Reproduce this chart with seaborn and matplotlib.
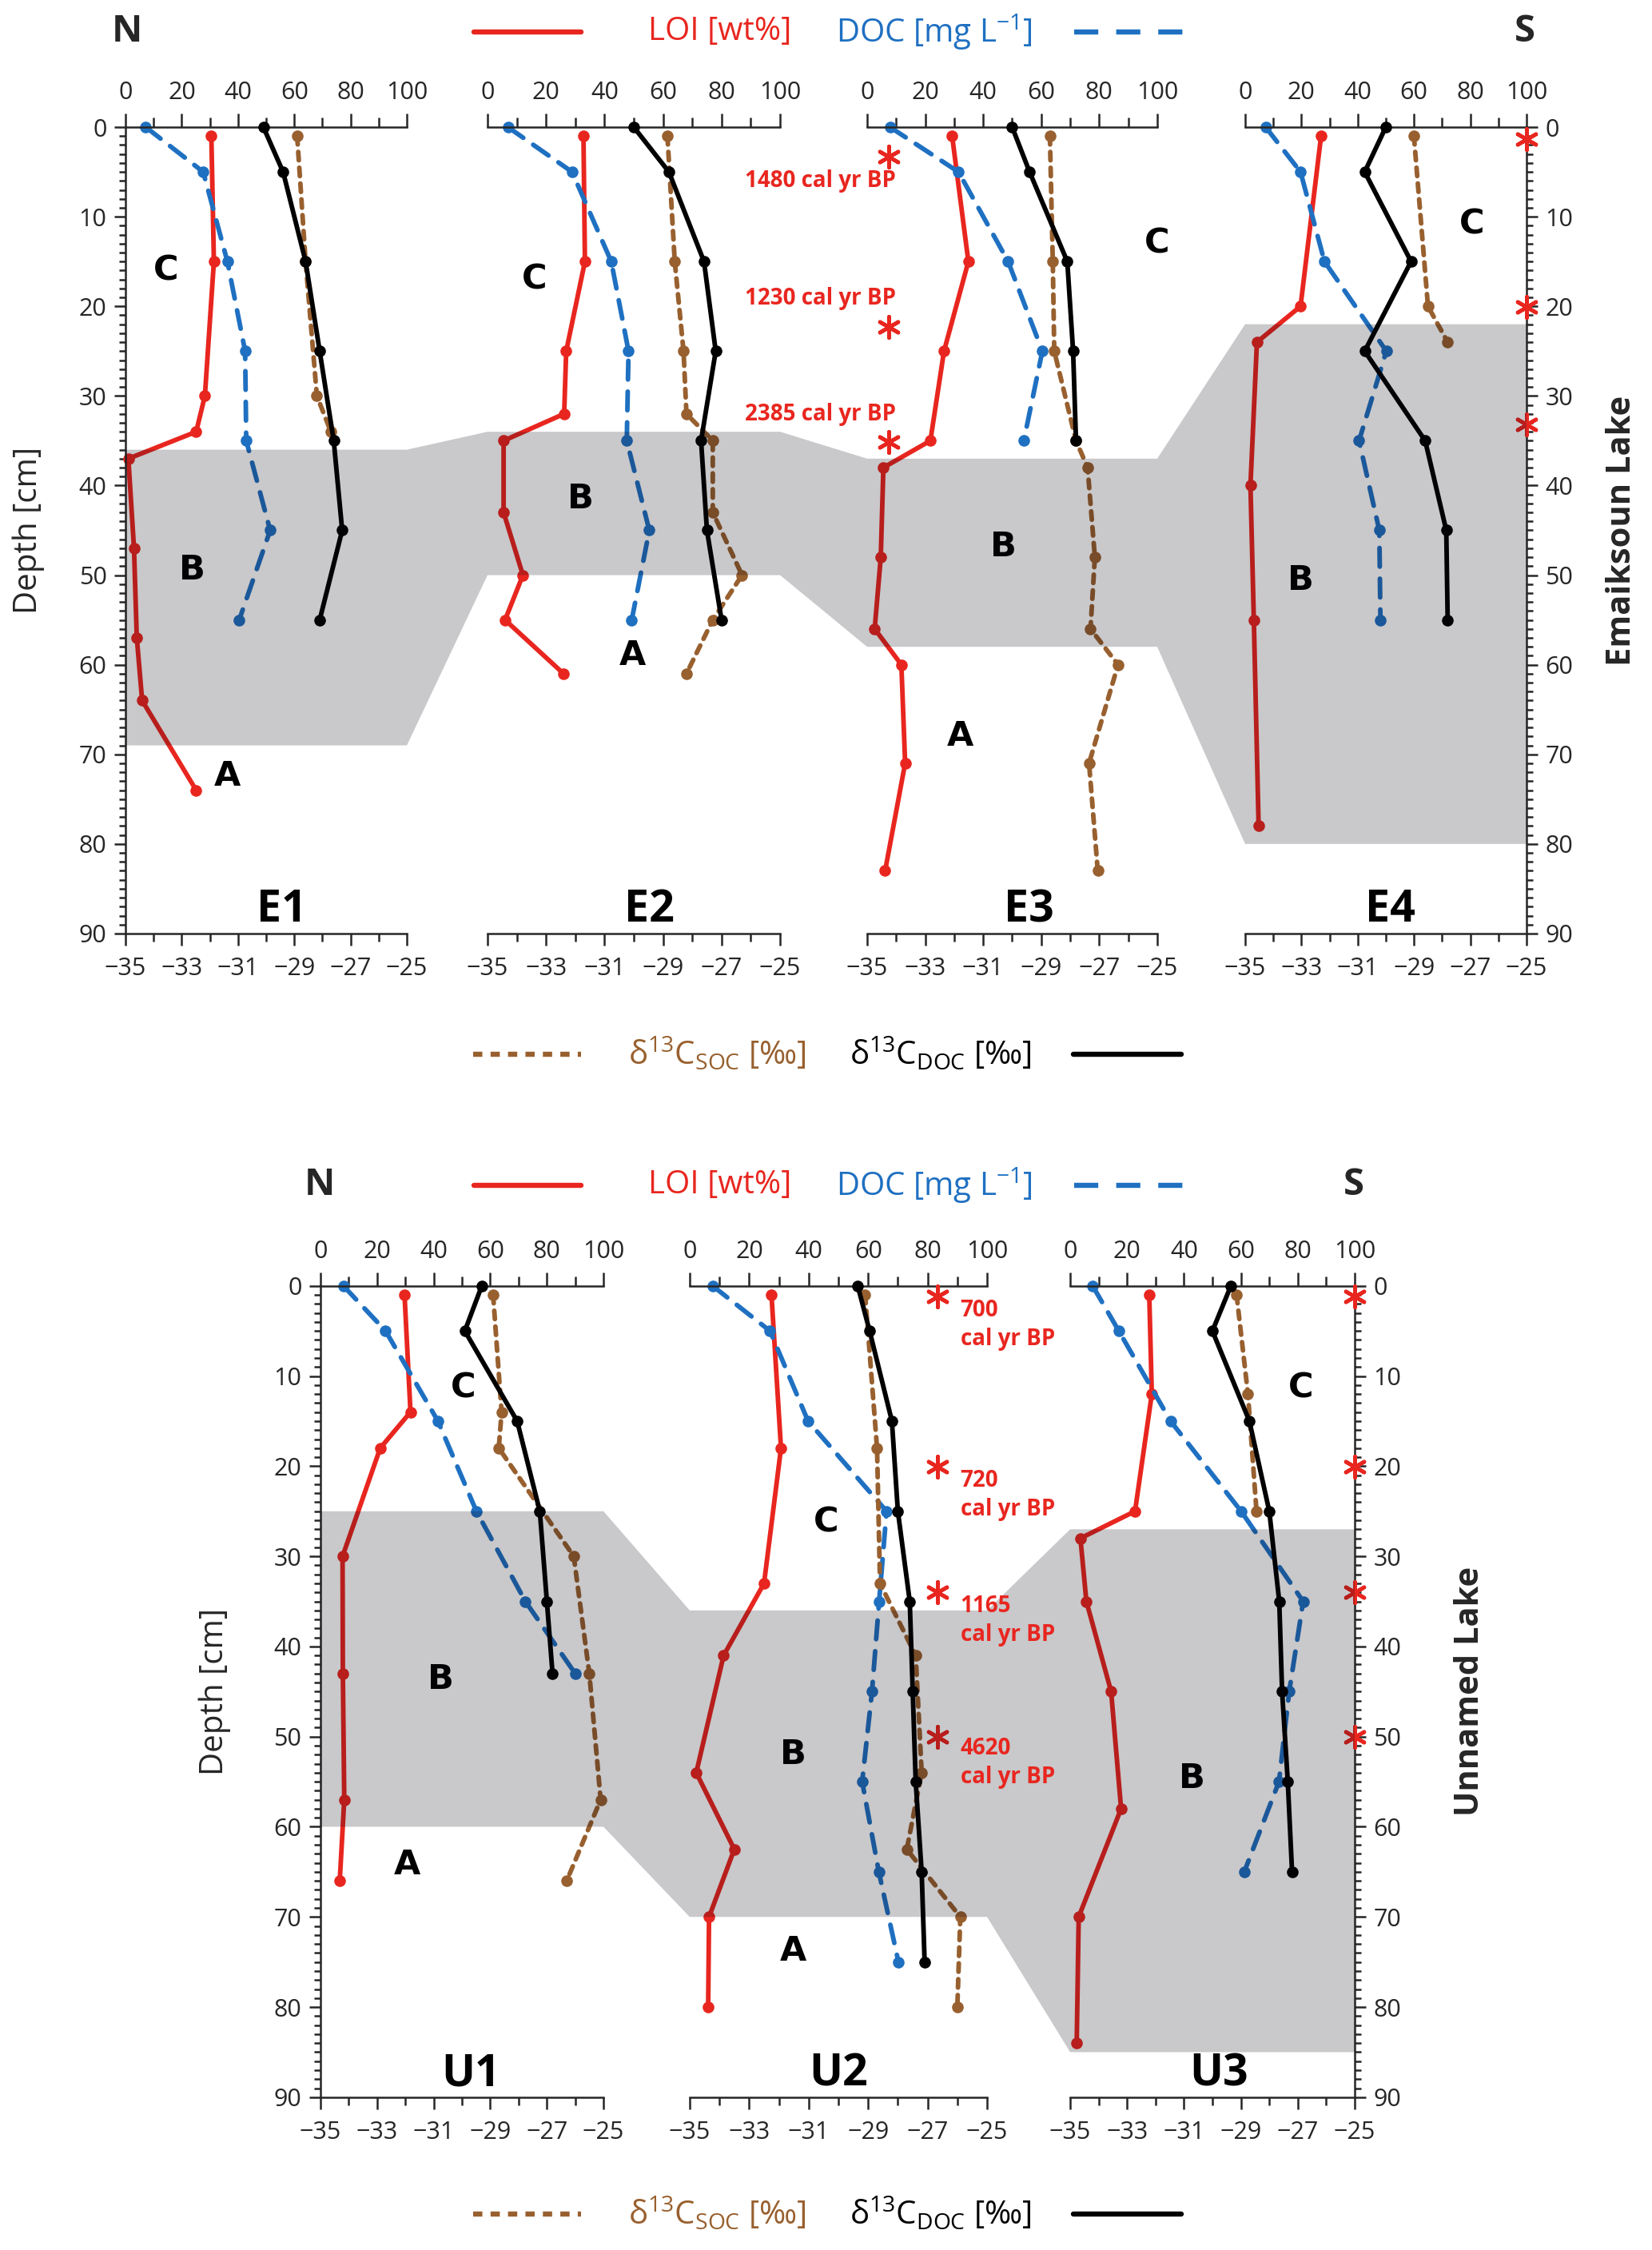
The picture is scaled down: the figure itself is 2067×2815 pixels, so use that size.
import matplotlib
matplotlib.use('Agg')
import matplotlib.pyplot as plt
import seaborn as sns
from matplotlib.lines import Line2D
from matplotlib.patches import Polygon
from matplotlib.ticker import MultipleLocator

sns.set_style('ticks')
plt.rcParams['font.family'] = ['Open Sans', 'DejaVu Sans']
plt.rcParams['mathtext.fontset'] = 'custom'
plt.rcParams['mathtext.rm'] = 'Open Sans'
plt.rcParams['mathtext.it'] = 'Open Sans:italic'
plt.rcParams['mathtext.bf'] = 'Open Sans:bold'

RED = '#e8261f'
BLUE = '#1f70c1'
BROWN = '#98602f'
BLACK = '#000000'
LW = 4.2
MS = 10.5

### DATA ###
# Emaiksoun Lake
e1_loi_depth = [1, 15, 30, 34, 37, 47, 57, 64, 74]
e1_loi = [30.5, 31.4, 28.2, 25.1, 1.0, 3.0, 4.0, 5.9, 25.1]
e1_doc_depth = [0, 5, 15, 25, 35, 45, 55]
e1_doc = [7.2, 27.6, 36.2, 42.5, 42.9, 51.4, 40.4]
e1_cdoc_depth = [0, 5, 15, 25, 35, 45, 55]
e1_cdoc = [-30.1, -29.4, -28.6, -28.1, -27.6, -27.3, -28.1]
e1_csoc_depth = [1, 15, 30, 34]
e1_csoc = [-28.9, -28.6, -28.2, -27.7]

e2_loi_depth = [1, 15, 25, 32, 35, 43, 50, 55, 61]
e2_loi = [32.8, 33.3, 26.9, 26.2, 5.5, 5.5, 12.1, 6.0, 26.0]
e2_doc_depth = [0, 5, 15, 25, 35, 45, 55]
e2_doc = [7.0, 28.9, 42.3, 48.2, 47.6, 55.3, 49.3]
e2_cdoc_depth = [0, 5, 15, 25, 35, 45, 55]
e2_cdoc = [-30.0, -28.8, -27.6, -27.2, -27.7, -27.5, -27.0]
e2_csoc_depth = [1, 15, 25, 32, 35, 43, 50, 55, 61]
e2_csoc = [-28.85, -28.6, -28.3, -28.2, -27.3, -27.3, -26.3, -27.3, -28.2]

e3_loi_depth = [1, 15, 25, 35, 38, 48, 56, 60, 71, 83]
e3_loi = [29.3, 34.9, 26.5, 21.8, 5.6, 4.7, 2.6, 11.8, 13.1, 6.2]
e3_doc_depth = [0, 5, 15, 25, 35]
e3_doc = [7.9, 31.5, 48.6, 60.4, 54.0]
e3_cdoc_depth = [0, 5, 15, 25, 35]
e3_cdoc = [-30.0, -29.4, -28.1, -27.9, -27.8]
e3_csoc_depth = [1, 15, 25, 35, 38, 48, 56, 60, 71, 83]
e3_csoc = [-28.7, -28.6, -28.55, -27.8, -27.4, -27.15, -27.3, -26.35, -27.35, -27.05]

e4_loi_depth = [1, 20, 24, 40, 55, 78]
e4_loi = [27.0, 19.7, 4.2, 1.9, 3.1, 4.8]
e4_doc_depth = [0, 5, 15, 25, 35, 45, 55]
e4_doc = [7.3, 19.7, 28.2, 50.2, 40.5, 47.7, 48.1]
e4_cdoc_depth = [0, 5, 15, 25, 35, 45, 55]
e4_cdoc = [-30.0, -30.75, -29.1, -30.75, -28.6, -27.85, -27.8]
e4_csoc_depth = [1, 20, 24]
e4_csoc = [-29.0, -28.5, -27.8]

# Unnamed Lake
u1_loi_depth = [1, 14, 18, 30, 43, 57, 66]
u1_loi = [29.7, 31.8, 21.1, 7.8, 7.9, 8.4, 6.8]
u1_doc_depth = [0, 5, 15, 25, 35, 43]
u1_doc = [8.1, 23.0, 41.5, 55.1, 72.4, 90.0]
u1_cdoc_depth = [0, 5, 15, 25, 35, 43]
u1_cdoc = [-29.3, -29.9, -28.05, -27.25, -27.0, -26.8]
u1_csoc_depth = [1, 14, 18, 30, 43, 57, 66]
u1_csoc = [-28.9, -28.6, -28.7, -26.05, -25.5, -25.1, -26.3]

u2_loi_depth = [1, 18, 33, 41, 54, 62.5, 70, 80]
u2_loi = [27.5, 30.7, 25.0, 11.4, 2.2, 15.0, 6.5, 6.2]
u2_doc_depth = [0, 5, 15, 25, 35, 45, 55, 65, 75]
u2_doc = [7.7, 27.0, 39.8, 66.2, 63.7, 61.3, 58.0, 63.6, 70.2]
u2_cdoc_depth = [0, 5, 15, 25, 35, 45, 55, 65, 75]
u2_cdoc = [-29.35, -28.95, -28.2, -28.0, -27.6, -27.5, -27.4, -27.2, -27.1]
u2_csoc_depth = [1, 18, 33, 41, 54, 62.5, 70, 80]
u2_csoc = [-29.1, -28.7, -28.6, -27.4, -27.2, -27.7, -25.9, -26.0]

u3_loi_depth = [1, 12, 25, 28, 35, 45, 58, 70, 84]
u3_loi = [27.8, 28.7, 22.8, 3.6, 5.7, 14.4, 17.9, 3.0, 2.3]
u3_doc_depth = [0, 5, 15, 25, 35, 45, 55, 65]
u3_doc = [7.9, 17.1, 35.3, 60.1, 81.9, 77.0, 73.4, 61.2]
u3_cdoc_depth = [0, 5, 15, 25, 35, 45, 55, 65]
u3_cdoc = [-29.35, -30.0, -28.7, -28.0, -27.65, -27.55, -27.35, -27.2]
u3_csoc_depth = [1, 12, 25]
u3_csoc = [-29.15, -28.75, -28.45]

# unit B boundaries (depth, cm) per core
e_band_top = [36, 34, 37, 22]
e_band_bot = [69, 50, 58, 80]
u_band_top = [25, 36, 27]
u_band_bot = [60, 70, 85]

# zone letters: (letter, x on 0-100 scale, depth)
e_zones = [
    [('C', 14.3, 16), ('B', 23.8, 49.4), ('A', 36.2, 72.4)],
    [('C', 16.1, 17), ('B', 31.7, 41.5), ('A', 49.6, 59)],
    [('C', 100, 13), ('B', 46.9, 46.8), ('A', 32.1, 68)],
    [('C', 80.5, 10.8), ('B', 19.7, 50.6)],
]
u_zones = [
    [('C', 50.4, 11.3), ('B', 42.5, 43.6), ('A', 30.5, 64.2)],
    [('C', 46, 26.2), ('B', 34.9, 52), ('A', 34.9, 73.8)],
    [('C', 81, 11.3), ('B', 42.7, 54.6)],
]
e_names = ['E1', 'E2', 'E3', 'E4']
u_names = ['U1', 'U2', 'U3']
e_name_x = [55.6, 55.3, 55.9, 51.7]
u_name_x = [53, 50, 52.4]

# radiocarbon dates
e3_star_depth = [3.3, 22.3, 35.1]
e3_ages = ['1480 cal yr BP', '1230 cal yr BP', '2385 cal yr BP']
e3_age_depth = [6.0, 19.1, 32.1]
e4_star_depth = [1.3, 20.1, 33.2]
u2_star_depth = [1.2, 20.1, 34, 50]
u2_ages = ['700', '720', '1165', '4620']
u2_age_depth = [2.9, 21.8, 35.7, 51.5]
u3_star_depth = [1.2, 20.1, 34, 50]

e_cores = [
    (e1_loi_depth, e1_loi, e1_doc_depth, e1_doc, e1_cdoc_depth, e1_cdoc, e1_csoc_depth, e1_csoc),
    (e2_loi_depth, e2_loi, e2_doc_depth, e2_doc, e2_cdoc_depth, e2_cdoc, e2_csoc_depth, e2_csoc),
    (e3_loi_depth, e3_loi, e3_doc_depth, e3_doc, e3_cdoc_depth, e3_cdoc, e3_csoc_depth, e3_csoc),
    (e4_loi_depth, e4_loi, e4_doc_depth, e4_doc, e4_cdoc_depth, e4_cdoc, e4_csoc_depth, e4_csoc),
]
u_cores = [
    (u1_loi_depth, u1_loi, u1_doc_depth, u1_doc, u1_cdoc_depth, u1_cdoc, u1_csoc_depth, u1_csoc),
    (u2_loi_depth, u2_loi, u2_doc_depth, u2_doc, u2_cdoc_depth, u2_cdoc, u2_csoc_depth, u2_csoc),
    (u3_loi_depth, u3_loi, u3_doc_depth, u3_doc, u3_cdoc_depth, u3_cdoc, u3_csoc_depth, u3_csoc),
]

fig = plt.figure(figsize=(20.67, 28.15), dpi=100)
fig.patch.set_facecolor('white')

TICK_FS = 22


def line(ax, x, y, color, ls):
    sns.lineplot(x=x, y=y, orient='y', sort=False, ax=ax, color=color, lw=LW,
                 linestyle=ls, marker='o', markersize=MS, markeredgecolor=color,
                 markeredgewidth=0, clip_on=False, dash_capstyle='round')


def draw_core(rect, core, side):
    loi_d, loi, doc_d, doc, cdoc_d, cdoc, csoc_d, csoc = core
    ax = fig.add_axes(rect)
    axd = ax.twiny()
    ax.set_facecolor('none')

    line(ax, loi, loi_d, RED, '-')
    line(ax, doc, doc_d, BLUE, (0, (4.0, 2.6)))
    line(axd, csoc, csoc_d, BROWN, (0, (1.8, 1.6)))
    line(axd, cdoc, cdoc_d, BLACK, '-')

    ax.set_xlim(0, 100)
    axd.set_xlim(-35, -25)
    ax.set_ylim(90, 0)
    for a in (ax, axd):
        a.set_xlabel('')
        a.set_ylabel('')
        for s in a.spines.values():
            s.set_visible(False)
            s.set_linewidth(1.8)

    # top axis: LOI / DOC
    ax.xaxis.tick_top()
    ax.spines['top'].set_visible(True)
    ax.set_xticks(range(0, 101, 20))
    ax.xaxis.set_minor_locator(MultipleLocator(10))
    ax.tick_params(axis='x', which='major', direction='out', length=12, width=1.8,
                   labelsize=TICK_FS, pad=8)
    ax.tick_params(axis='x', which='minor', direction='out', length=9, width=1.8)

    # bottom axis: d13C
    axd.xaxis.tick_bottom()
    axd.spines['bottom'].set_visible(True)
    axd.set_xticks(range(-35, -24, 2))
    axd.xaxis.set_minor_locator(MultipleLocator(1))
    axd.tick_params(axis='x', which='major', direction='out', length=11, width=1.8,
                    labelsize=TICK_FS, pad=10)
    axd.tick_params(axis='x', which='minor', direction='out', length=7, width=1.8)

    # depth axis
    ax.set_yticks(range(0, 91, 10))
    ax.yaxis.set_minor_locator(MultipleLocator(1))
    if side == 'left':
        ax.spines['left'].set_visible(True)
        ax.tick_params(axis='y', which='both', left=True, right=False,
                       labelleft=True, labelright=False, direction='out', width=1.8)
    elif side == 'right':
        ax.spines['right'].set_visible(True)
        ax.tick_params(axis='y', which='both', left=False, right=True,
                       labelleft=False, labelright=True, direction='out', width=1.8)
    else:
        ax.tick_params(axis='y', which='both', left=False, right=False,
                       labelleft=False, labelright=False)
    ax.tick_params(axis='y', which='major', length=10, labelsize=TICK_FS, pad=7)
    ax.tick_params(axis='y', which='minor', length=6)
    return ax


def add_band(axes, tops, bots):
    inv = fig.transFigure.inverted()
    upper, lower = [], []
    for ax, t, b in zip(axes, tops, bots):
        for x in (0, 100):
            upper.append(inv.transform(ax.transData.transform((x, t))))
            lower.append(inv.transform(ax.transData.transform((x, b))))
    pts = upper + lower[::-1]
    # dark translucent overlay so the curves show through darker, as in the original
    poly = Polygon(pts, closed=True, transform=fig.transFigure,
                   facecolor=(0.04, 0.02, 0.07), alpha=0.22, edgecolor='none', zorder=5)
    fig.add_artist(poly)


def add_labels(ax, zones, name, name_x):
    for letter, x, d in zones:
        ax.text(x, d, letter, ha='center', va='center', fontsize=31,
                fontweight='bold', color='black', family='DejaVu Sans', zorder=10)
    ax.text(name_x, 87.4, name, ha='center', va='center', fontsize=40,
            fontweight='bold', color='black', zorder=10)


def stars(ax, x, depths):
    ax.scatter([x] * len(depths), depths, marker=(6, 2, 0), s=360, color=RED,
               linewidths=3.4, clip_on=False, zorder=12)


# ---- Emaiksoun Lake ----
TOP_Y0, TOP_H = 0.5851, 0.3584
e_x = [(0.0760, 0.1703), (0.2951, 0.1771), (0.5249, 0.1756), (0.7537, 0.1703)]
e_side = ['left', 'none', 'none', 'right']
e_axes = []
for (x0, w), core, side, zones, name, nx in zip(e_x, e_cores, e_side, e_zones, e_names, e_name_x):
    ax = draw_core([x0, TOP_Y0, w, TOP_H], core, side)
    add_labels(ax, zones, name, nx)
    e_axes.append(ax)
add_band(e_axes, e_band_top, e_band_bot)

stars(e_axes[2], 7.5, e3_star_depth)
for txt, d in zip(e3_ages, e3_age_depth):
    fig.text(10, d, txt, ha='right', va='center', fontsize=20, fontweight='bold',
             color=RED, transform=e_axes[2].transData, zorder=8)
stars(e_axes[3], 100, e4_star_depth)

# ---- Unnamed Lake ----
BOT_Y0, BOT_H = 0.0679, 0.3606
u_x = [(0.1940, 0.1713), (0.4175, 0.1800), (0.6478, 0.1722)]
u_side = ['left', 'none', 'right']
u_axes = []
for (x0, w), core, side, zones, name, nx in zip(u_x, u_cores, u_side, u_zones, u_names, u_name_x):
    ax = draw_core([x0, BOT_Y0, w, BOT_H], core, side)
    add_labels(ax, zones, name, nx)
    u_axes.append(ax)
add_band(u_axes, u_band_top, u_band_bot)

stars(u_axes[1], 83.4, u2_star_depth)
for txt, d in zip(u2_ages, u2_age_depth):
    fig.text(91, d - 1.5, txt + '\ncal yr BP', ha='left', va='top', fontsize=20,
             fontweight='bold', color=RED, linespacing=1.35,
             transform=u_axes[1].transData, zorder=8)
stars(u_axes[2], 100, u3_star_depth)


# ---- header / legend rows ----
def header(y, n_x, s_x):
    fig.text(n_x, y, 'N', ha='center', va='center', fontsize=34, fontweight='bold')
    fig.text(s_x, y, 'S', ha='center', va='center', fontsize=34, fontweight='bold')
    fig.add_artist(Line2D([0.2869, 0.3517], [y, y], color=RED, lw=LW * 1.1,
                          transform=fig.transFigure))
    fig.text(0.479, y, 'LOI [wt%]', ha='right', va='center', fontsize=29, color=RED)
    fig.text(0.506, y, 'DOC [mg L$^{-1}$]', ha='left', va='center', fontsize=29, color=BLUE)
    fig.add_artist(Line2D([0.650, 0.716], [y, y], color=BLUE, lw=LW * 1.1,
                          linestyle=(0, (4.7, 3.5)), transform=fig.transFigure))


def footer(y):
    fig.add_artist(Line2D([0.2864, 0.3517], [y, y], color=BROWN, lw=LW * 1.1,
                          linestyle=(0, (1.8, 1.6)), transform=fig.transFigure))
    fig.text(0.4881, y, 'δ$^{13}$C$_{\\mathrm{SOC}}$ [‰]', ha='right', va='center',
             fontsize=29, color=BROWN)
    fig.text(0.5143, y, 'δ$^{13}$C$_{\\mathrm{DOC}}$ [‰]', ha='left', va='center',
             fontsize=29, color=BLACK)
    fig.add_artist(Line2D([0.6497, 0.7150], [y, y], color=BLACK, lw=LW * 1.1,
                          transform=fig.transFigure))


header(0.9858, 0.0769, 0.923)
footer(0.5314)
header(0.4732, 0.1935, 0.8195)
footer(0.0160)

fig.text(0.0174, TOP_Y0 + TOP_H / 2, 'Depth [cm]', rotation=90, ha='center',
         va='center', fontsize=29)
fig.text(0.130, BOT_Y0 + BOT_H / 2, 'Depth [cm]', rotation=90, ha='center',
         va='center', fontsize=29)
fig.text(0.982, TOP_Y0 + TOP_H / 2, 'Emaiksoun Lake', rotation=90, ha='center',
         va='center', fontsize=30, fontweight='bold')
fig.text(0.890, BOT_Y0 + BOT_H / 2, 'Unnamed Lake', rotation=90, ha='center',
         va='center', fontsize=30, fontweight='bold')

fig.savefig('out.png', dpi=100, facecolor='white')
